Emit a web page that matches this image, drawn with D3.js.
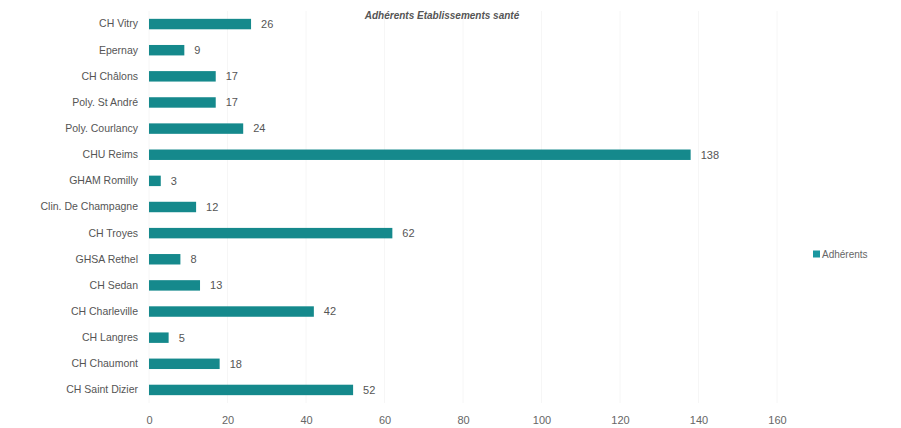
<!DOCTYPE html>
<html>
<head>
<meta charset="utf-8">
<script src="https://cdn.jsdelivr.net/npm/d3@7"></script>
<style>
  body { margin: 0; background: #fff; }
  text { font-family: "Liberation Sans", Arial, sans-serif; }
</style>
</head>
<body>
<svg id="chart" width="901" height="428"></svg>
<script>
var etablissements = ["CH Vitry", "Epernay", "CH Châlons", "Poly. St André", "Poly. Courlancy",
  "CHU Reims", "GHAM Romilly", "Clin. De Champagne", "CH Troyes", "GHSA Rethel",
  "CH Sedan", "CH Charleville", "CH Langres", "CH Chaumont", "CH Saint Dizier"];
var adherents = [26, 9, 17, 17, 24, 138, 3, 12, 62, 8, 13, 42, 5, 18, 52];
var xTicks = [0, 20, 40, 60, 80, 100, 120, 140, 160];
var titre = "Adhérents Etablissements santé";
var serie = "Adhérents";

var svg = d3.select("#chart");
// attention: "top" est deja pris par window.top
var plotLeft = 149, plotRight = 777, plotTop = 11, plotBottom = 403;
var barColor = "#15898c";

var x = d3.scaleLinear().domain([0, 160]).range([plotLeft, plotRight]);
var y = d3.scaleBand().domain(etablissements).range([plotTop, plotBottom]).paddingInner(0.6).paddingOuter(0.3);

// grille verticale tres claire
svg.append("g").selectAll("line")
  .data(xTicks)
  .enter().append("line")
  .attr("x1", function(d) { return x(d); })
  .attr("x2", function(d) { return x(d); })
  .attr("y1", plotTop)
  .attr("y2", plotBottom)
  .style("stroke", "#f6f6f6")
  .style("stroke-width", 1);

var xAxis = svg.append("g")
  .attr("transform", "translate(0," + plotBottom + ")")
  .call(d3.axisBottom(x).tickValues(xTicks).tickSize(0).tickPadding(13));
xAxis.select(".domain").remove();
xAxis.selectAll("text").style("font-size", "11px").style("fill", "#666");

var yAxis = svg.append("g")
  .attr("transform", "translate(" + (plotLeft - 11) + ",0)")
  .call(d3.axisLeft(y).tickSize(0).tickPadding(0));
yAxis.select(".domain").remove();
yAxis.selectAll("text").style("font-size", "10.5px").style("fill", "#555");

svg.append("g").selectAll("rect")
  .data(adherents)
  .enter().append("rect")
  .attr("x", x(0))
  .attr("y", function(d, i) { return y(etablissements[i]); })
  .attr("width", function(d) { return x(d) - x(0); })
  .attr("height", y.bandwidth())
  .style("fill", barColor);

svg.append("g").selectAll("text")
  .data(adherents)
  .enter().append("text")
  .attr("x", function(d) { return x(d) + 10; })
  .attr("y", function(d, i) { return y(etablissements[i]) + y.bandwidth() / 2; })
  .attr("dy", "0.35em")
  .style("font-size", "11px")
  .style("fill", "#555")
  .text(function(d) { return d; });

svg.append("text")
  .attr("x", 442)
  .attr("y", 19)
  .attr("text-anchor", "middle")
  .style("font-size", "10px")
  .style("font-weight", "bold")
  .style("font-style", "italic")
  .style("fill", "#555")
  .text(titre);

var legend = svg.append("g").attr("transform", "translate(813,254)");
legend.append("rect")
  .attr("x", 0).attr("y", -3.5)
  .attr("width", 7).attr("height", 7)
  .style("fill", "#1a97a0");
legend.append("text")
  .attr("x", 9)
  .attr("dy", "0.35em")
  .style("font-size", "10px")
  .style("fill", "#666")
  .text(serie);
</script>
</body>
</html>
